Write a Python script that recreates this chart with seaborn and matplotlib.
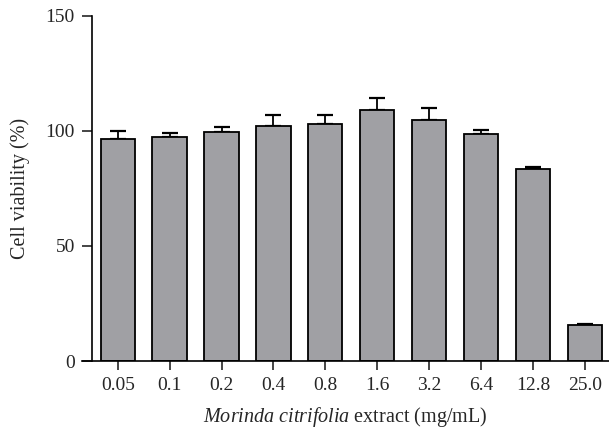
import matplotlib
matplotlib.use("Agg")
import matplotlib.pyplot as plt
import seaborn as sns
import numpy as np
import pandas as pd

concentrations = ["0.05", "0.1", "0.2", "0.4", "0.8", "1.6", "3.2", "6.4", "12.8", "25.0"]
viability = [96.6, 97.3, 99.5, 102.1, 103.1, 109.2, 104.8, 98.7, 83.3, 15.6]
sd_upper = [3.4, 1.9, 2.1, 4.8, 3.8, 5.2, 5.2, 1.8, 1.0, 0.6]
y_ticks = [0, 50, 100, 150]

sns.set_style("white")
plt.rcParams["font.family"] = ["Liberation Serif", "DejaVu Serif"]
plt.rcParams["mathtext.fontset"] = "custom"
plt.rcParams["mathtext.rm"] = "Liberation Serif"
plt.rcParams["mathtext.it"] = "Liberation Serif:italic"

df = pd.DataFrame({"conc": concentrations, "viability": viability})

W, H = 609, 429
fig = plt.figure(figsize=(W / 100, H / 100), dpi=100)
ax_left, ax_right = 82, 609
ax_top, ax_bottom = 15.7, 361
ax = fig.add_axes([ax_left / W, (H - ax_bottom) / H,
                   (ax_right - ax_left) / W, (ax_bottom - ax_top) / H])

sns.barplot(data=df, x="conc", y="viability", order=concentrations,
            color="#a0a0a4", saturation=1, edgecolor="black", linewidth=1.3,
            width=0.66, errorbar=None, ax=ax, zorder=2)

xpos = np.arange(len(concentrations))
ax.errorbar(xpos, viability, yerr=[np.zeros(len(sd_upper)), sd_upper],
            fmt="none", ecolor="black", elinewidth=1.3, capsize=6.1,
            capthick=1.6, zorder=1)

ax.set_xlim(-0.688, 9.466)
ax.set_ylim(0, 150)
ax.set_yticks(y_ticks)

for s in ["top", "right"]:
    ax.spines[s].set_visible(False)
ax.spines["left"].set_position(("data", -0.5))
ax.spines["left"].set_bounds(0, 150)
for s in ["left", "bottom"]:
    ax.spines[s].set_linewidth(1.2)
    ax.spines[s].set_color("black")

ax.tick_params(axis="y", length=7.2, width=1.2, pad=5, labelsize=14, direction="out", left=True)
ax.tick_params(axis="x", length=6.5, width=1.2, pad=5, labelsize=14, direction="out", bottom=True)

ax.set_xlabel(r"$\mathit{Morinda\ citrifolia}$ extract (mg/mL)", fontsize=14.5, labelpad=8)
ax.set_ylabel("Cell viability (%)", fontsize=14.5)
ax.yaxis.set_label_coords((30 - ax_left) / (ax_right - ax_left), 0.5)
ax.grid(False)

fig.savefig("out.png", dpi=100)
